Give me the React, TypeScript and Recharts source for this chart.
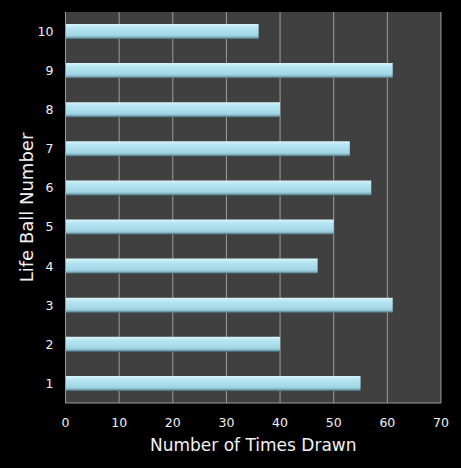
import React from 'react';
import { BarChart, Bar, XAxis, YAxis, CartesianGrid } from 'recharts';

const balls = ['1', '2', '3', '4', '5', '6', '7', '8', '9', '10'];
const timesDrawn = [55, 40, 61, 47, 50, 57, 53, 40, 61, 36];
const xTicks = [0, 10, 20, 30, 40, 50, 60, 70];

const data = balls.map((ball, i) => ({ ball, drawn: timesDrawn[i] }));

const FONT = "'DejaVu Sans', Verdana, sans-serif";

export default function App() {
    return (
        <div style={{ position: 'absolute', left: 0, top: 0, width: 461, height: 468, background: '#000' }}>
            <BarChart
                width={461}
                height={468}
                data={data}
                layout="vertical"
                margin={{ top: 12, right: 20, bottom: 0, left: 0 }}
            >
                <defs>
                    <linearGradient id="barFill" x1="0" y1="0" x2="0" y2="1">
                        <stop offset="0%" stopColor="#d9f4fb" />
                        <stop offset="25%" stopColor="#b6e5f1" />
                        <stop offset="75%" stopColor="#a2d6e6" />
                        <stop offset="86%" stopColor="#8cbccb" />
                        <stop offset="100%" stopColor="#466a76" />
                    </linearGradient>
                </defs>
                <CartesianGrid horizontal={false} fill="#404040" stroke="#9c9c9c" strokeWidth={1} />
                <XAxis
                    type="number"
                    domain={[0, 70]}
                    ticks={xTicks}
                    height={65}
                    axisLine={{ stroke: '#9c9c9c' }}
                    tickLine={false}
                    tickMargin={9}
                    tick={{ fill: '#f2f2f2', fontSize: 12.5, fontFamily: FONT }}
                    label={{
                        value: 'Number of Times Drawn',
                        position: 'insideBottom',
                        offset: 17,
                        fill: '#f2f2f2',
                        fontSize: 17,
                        fontFamily: FONT,
                    }}
                />
                <YAxis
                    type="category"
                    dataKey="ball"
                    reversed
                    width={65.5}
                    axisLine={{ stroke: '#9c9c9c' }}
                    tickLine={false}
                    tickMargin={6}
                    tick={{ fill: '#f2f2f2', fontSize: 12.5, fontFamily: FONT }}
                    label={{
                        value: 'Life Ball Number',
                        angle: -90,
                        position: 'insideLeft',
                        offset: 27,
                        fill: '#f2f2f2',
                        fontSize: 18,
                        fontFamily: FONT,
                        style: { textAnchor: 'middle' },
                    }}
                />
                <Bar dataKey="drawn" fill="url(#barFill)" barSize={15} isAnimationActive={false} />
            </BarChart>
        </div>
    );
}
